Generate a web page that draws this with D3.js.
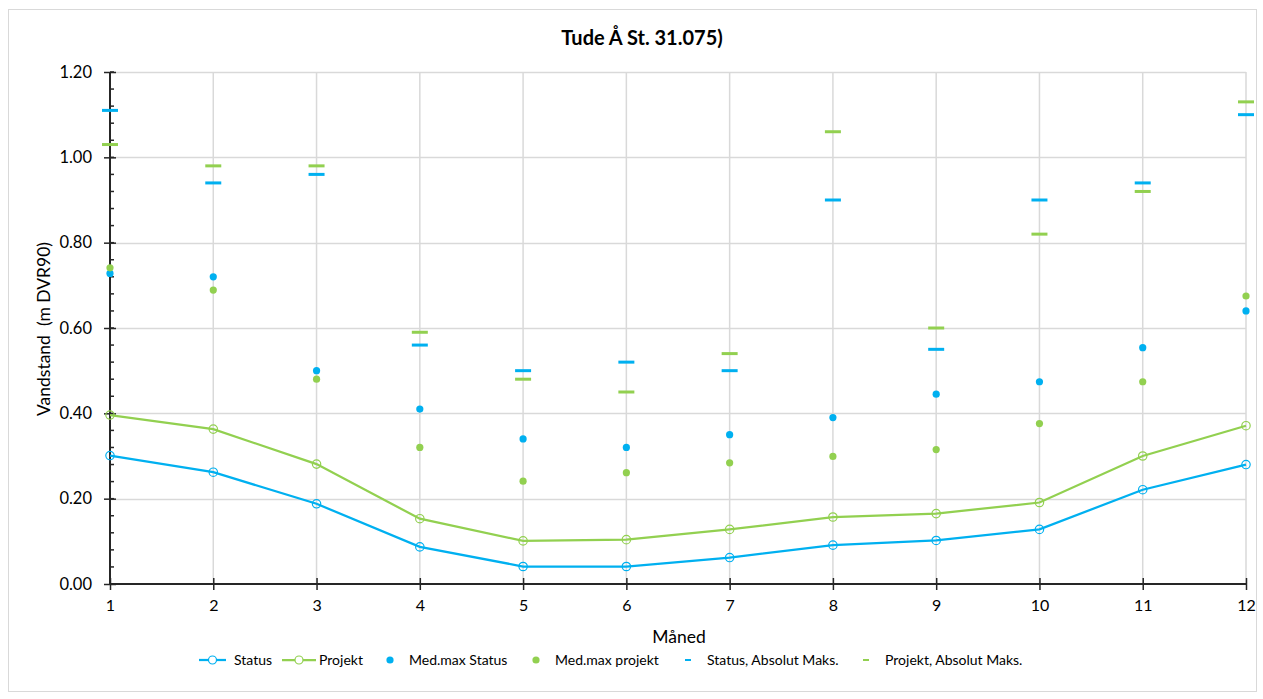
<!DOCTYPE html>
<html><head><meta charset="utf-8">
<script src="https://cdn.jsdelivr.net/npm/d3@7"></script>
<style>body{margin:0;background:#fff;} text{font-family:Lato,"Open Sans",sans-serif;fill:#000;}</style>
</head><body>
<svg id="c" width="1263" height="699"></svg>
<script>
const months = [1,2,3,4,5,6,7,8,9,10,11,12];
const status = [0.301,0.262,0.188,0.087,0.041,0.041,0.062,0.091,0.102,0.128,0.221,0.280];
const projekt = [0.396,0.363,0.281,0.153,0.101,0.104,0.128,0.157,0.165,0.191,0.300,0.371];
const medmaxStatus = [0.728,0.720,0.500,0.410,0.340,0.320,0.350,0.390,0.445,0.474,0.554,0.640];
const medmaxProjekt = [0.741,0.689,0.480,0.320,0.241,0.261,0.284,0.299,0.315,0.376,0.474,0.675];
const absStatus = [1.11,0.94,0.96,0.56,0.50,0.52,0.50,0.90,0.55,0.90,0.94,1.10];
const absProjekt = [1.03,0.98,0.98,0.59,0.48,0.45,0.54,1.06,0.60,0.82,0.92,1.13];
const yTicks = [0,0.2,0.4,0.6,0.8,1.0,1.2];
const yMinor = d3.range(0,1.2001,0.04);
const title = "Tude Å St. 31.075)";
const yLabel = "Vandstand  (m DVR90)";
const xLabel = "Måned";
const legendItems = ["Status","Projekt","Med.max Status","Med.max projekt","Status, Absolut Maks.","Projekt, Absolut Maks."];

const C_S = "#00B0F0", C_P = "#92D050";
const svg = d3.select("#c");
const x = d3.scaleLinear().domain([1,12]).range([110,1246]);
const y = d3.scaleLinear().domain([0,1.2]).range([584,72]);

// border
svg.append("rect").attr("x",8.5).attr("y",9.5).attr("width",1248).attr("height",682)
  .attr("fill","none").attr("stroke","#d9d9d9").attr("stroke-width",1);

// grid
const g = svg.append("g");
g.selectAll(".hg").data(yTicks.filter(d=>d>0)).join("line")
  .attr("x1",110).attr("x2",1246).attr("y1",d=>Math.round(y(d))+0.5).attr("y2",d=>Math.round(y(d))+0.5)
  .attr("stroke","#d9d9d9").attr("stroke-width",1.5);
g.selectAll(".vg").data(months.slice(1)).join("line")
  .attr("y1",72).attr("y2",584).attr("x1",d=>x(d)).attr("x2",d=>x(d))
  .attr("stroke","#d9d9d9").attr("stroke-width",1.5);

// axes
const ax = svg.append("g").attr("transform","translate(0,584)")
  .call(d3.axisBottom(x).tickValues(months).tickFormat(d3.format("d")).tickSize(6).tickPadding(10));
ax.selectAll(".tick line").attr("y1",-6).attr("stroke","#262626").attr("stroke-width",1.5);
ax.select(".domain").attr("stroke","#262626").attr("stroke-width",2).attr("d","M110,0H1246");
ax.selectAll(".tick text").attr("font-size",16).attr("font-family","Lato").attr("fill","#000");

svg.append("g").selectAll("line").data(yMinor).join("line")
  .attr("x1",110).attr("x2",114).attr("y1",d=>y(d)).attr("y2",d=>y(d))
  .attr("stroke","#262626").attr("stroke-width",1.5);
const ay = svg.append("g").attr("transform","translate(110,0)")
  .call(d3.axisLeft(y).tickValues(yTicks).tickFormat(d3.format(".2f")).tickSize(6).tickPadding(12));
ay.selectAll(".tick line").attr("x1",6).attr("stroke","#262626").attr("stroke-width",1.5);
ay.select(".domain").attr("stroke","#262626").attr("stroke-width",2).attr("d","M0,72V584");
ay.selectAll(".tick text").attr("font-size",16.5).attr("font-family","Lato").attr("fill","#000");

// lines
const line = d3.line().x((d,i)=>x(months[i])).y(d=>y(d));
function series(vals,color){
  svg.append("path").datum(vals).attr("d",line).attr("fill","none").attr("stroke",color).attr("stroke-width",2.25);
  svg.append("g").selectAll("circle").data(vals).join("circle")
    .attr("cx",(d,i)=>x(months[i])).attr("cy",d=>y(d)).attr("r",4.2)
    .attr("fill","none").attr("stroke",color).attr("stroke-width",1.2);
}
series(status,C_S);
series(projekt,C_P);

function dots(vals,color){
  svg.append("g").selectAll("circle").data(vals).join("circle")
    .attr("cx",(d,i)=>x(months[i])).attr("cy",d=>y(d)).attr("r",3.6).attr("fill",color);
}
dots(medmaxStatus,C_S);
dots(medmaxProjekt,C_P);

function dashes(vals,color){
  svg.append("g").selectAll("line").data(vals).join("line")
    .attr("x1",(d,i)=>x(months[i])-8).attr("x2",(d,i)=>x(months[i])+8)
    .attr("y1",d=>y(d)).attr("y2",d=>y(d)).attr("stroke",color).attr("stroke-width",3);
}
dashes(absStatus,C_S);
dashes(absProjekt,C_P);

// titles
svg.append("text").attr("x",642).attr("y",45).attr("text-anchor","middle")
  .attr("font-size",20).attr("font-weight","bold").text(title);
svg.append("text").attr("transform","translate(50,329) rotate(-90)").attr("text-anchor","middle")
  .attr("font-size",17.5).style("white-space","pre").text(yLabel);
svg.append("text").attr("x",679).attr("y",643).attr("text-anchor","middle")
  .attr("font-size",17.5).text(xLabel);

// legend
const ly = 660;
const lg = svg.append("g");
const lx = [234,319,409,555,707,885];
[[C_S,199,226],[C_P,282,316]].forEach(([c,a,b])=>{
  lg.append("line").attr("x1",a).attr("x2",b).attr("y1",ly).attr("y2",ly).attr("stroke",c).attr("stroke-width",2.25);
  lg.append("circle").attr("cx",(a+b)/2).attr("cy",ly).attr("r",4).attr("fill","#fff").attr("stroke",c).attr("stroke-width",1.2);
});
lg.append("circle").attr("cx",390).attr("cy",ly).attr("r",3.6).attr("fill",C_S);
lg.append("circle").attr("cx",536).attr("cy",ly).attr("r",3.6).attr("fill",C_P);
lg.append("line").attr("x1",685).attr("x2",691).attr("y1",ly).attr("y2",ly).attr("stroke",C_S).attr("stroke-width",2);
lg.append("line").attr("x1",863).attr("x2",869).attr("y1",ly).attr("y2",ly).attr("stroke",C_P).attr("stroke-width",2);
lg.selectAll("text").data(legendItems).join("text")
  .attr("x",(d,i)=>lx[i]).attr("y",ly+5).attr("font-size",14).text(d=>d);
</script>
</body></html>
